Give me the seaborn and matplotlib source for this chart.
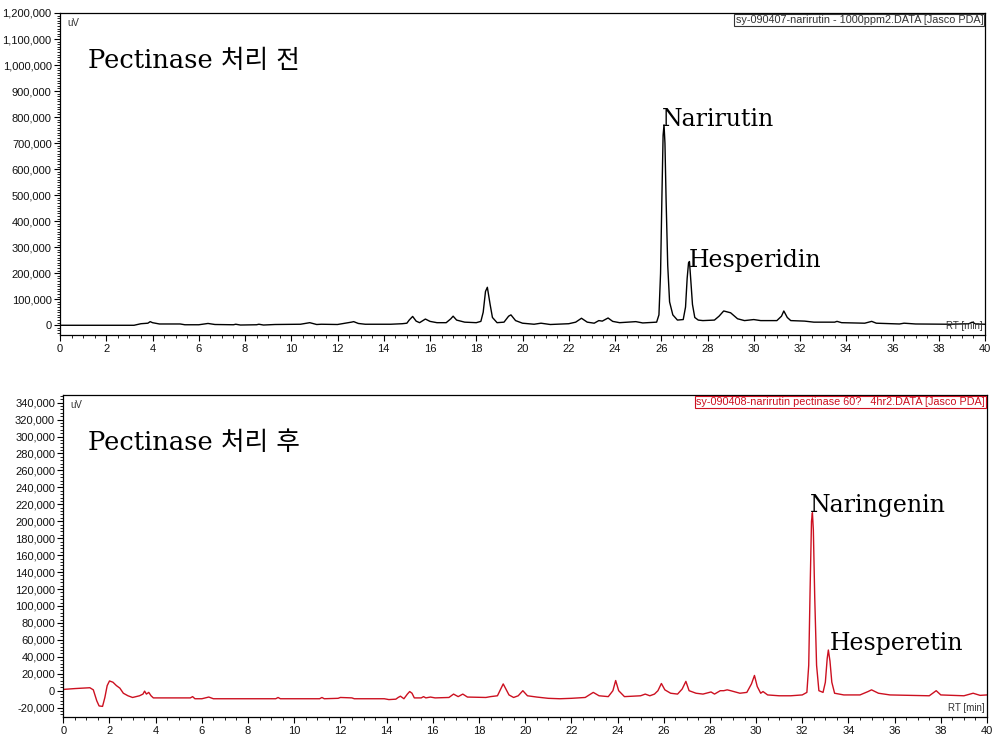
import matplotlib
matplotlib.use("Agg")
import matplotlib.pyplot as plt
import matplotlib.ticker as mticker
import seaborn as sns
import pandas as pd

# ---- Data ----
# Top: before pectinase treatment (retention time [min], signal [uV])
rt_before = [0, 3.2, 3.5, 3.8, 3.9, 4.0, 4.3, 5.2, 5.4, 6.0, 6.4, 6.7, 7.5, 7.6, 7.8,
             8.5, 8.6, 8.8, 9.3, 10.4, 10.8, 11.1, 11.3, 12.0, 12.6, 12.7, 12.9, 13.2,
             14.3, 14.8, 15.0, 15.1, 15.25, 15.4, 15.55, 15.8, 16.0, 16.3, 16.7, 16.9,
             17.0, 17.15, 17.5, 18.0, 18.2, 18.3, 18.4, 18.48, 18.6, 18.7, 18.9, 19.2, 19.4,
             19.5, 19.7, 20.0, 20.5, 20.8, 21.2, 22.0, 22.3, 22.55, 22.8, 23.1, 23.3,
             23.45, 23.7, 23.9, 24.2, 24.9, 25.2, 25.8, 25.9, 25.97, 26.03, 26.08, 26.12,
             26.16, 26.21, 26.28, 26.36, 26.5, 26.7, 26.95, 27.05, 27.12, 27.18, 27.22,
             27.28, 27.35, 27.45, 27.6, 27.8, 28.3, 28.5,
             28.7, 29.0, 29.3, 29.6, 30.0, 30.3, 31.0, 31.2, 31.3, 31.45, 31.6, 32.2,
             32.6, 33.5, 33.6, 33.8, 34.8, 35.1, 35.3, 36.3, 36.5, 37.0, 38.5, 39.3,
             39.45, 39.6, 40]
uv_before = [0, 0, 6000, 8000, 14000, 10000, 5000, 5000, 2000, 2000, 7000, 3000, 2000, 4000, 1000,
             2000, 4000, 1000, 3000, 4000, 10000, 3000, 4000, 3000, 12000, 14000, 7000, 4000,
             4000, 6000, 8000, 20000, 34000, 16000, 10000, 24000, 15000, 10000, 10000, 25000,
             35000, 20000, 12000, 10000, 15000, 50000, 130000, 146000, 80000, 30000, 10000, 12000, 35000,
             40000, 18000, 8000, 4000, 8000, 3000, 6000, 12000, 27000, 12000, 8000, 18000,
             16000, 28000, 15000, 10000, 14000, 9000, 12000, 40000, 200000, 500000, 730000, 770000,
             700000, 480000, 230000, 90000, 40000, 20000, 22000, 70000, 180000, 240000, 245000,
             170000, 80000, 30000, 20000, 18000, 20000, 35000,
             55000, 48000, 25000, 18000, 22000, 18000, 18000, 35000, 55000, 30000, 18000, 16000,
             12000, 12000, 15000, 10000, 8000, 15000, 8000, 5000, 8000, 5000, 4000, 6000,
             12000, 5000, 4000]

# Bottom: after pectinase treatment
rt_after = [0, 0.5, 1.15, 1.3, 1.45, 1.55, 1.7, 1.8, 1.9, 2.0, 2.15, 2.3, 2.45, 2.6, 2.8,
            3.0, 3.3, 3.45, 3.52, 3.6, 3.7, 3.8, 3.9, 4.2, 5.5, 5.6, 5.7, 6.0, 6.3, 6.5,
            9.2, 9.3, 9.4, 11.1, 11.2, 11.3, 11.9, 12.0, 12.5, 12.6, 13.9, 14.1, 14.4,
            14.5, 14.6, 14.75, 14.9, 15.0, 15.1, 15.2, 15.5, 15.6, 15.7, 15.9, 16.1,
            16.7, 16.9, 17.1, 17.3, 17.5, 18.3, 18.5, 18.8, 19.05, 19.3, 19.5, 19.7,
            19.9, 20.1, 20.5, 21.0, 21.5, 22.0, 22.6, 22.95, 23.2, 23.6, 23.8, 23.92,
            24.05, 24.3, 25.0, 25.2, 25.4, 25.6, 25.75, 25.9, 26.05, 26.3, 26.6, 26.8,
            26.96, 27.1, 27.4, 27.7, 28.05, 28.2, 28.45, 28.6, 28.75, 28.9, 29.3, 29.6,
            29.8, 29.93, 30.05, 30.2, 30.3, 30.5, 31.0, 31.5, 32.0, 32.2, 32.28, 32.34,
            32.4, 32.44, 32.48, 32.54, 32.62, 32.72, 32.9, 33.0, 33.08, 33.13, 33.2, 33.28,
            33.4, 33.8, 34.5, 34.85,
            35.0, 35.3, 35.8, 37.5, 37.8, 38.0, 39.0, 39.4, 39.7, 40]
uv_after = [1500, 2500, 3500, 1000, -12000, -18000, -18500, -8000, 6000, 11500, 10000, 6000, 3000, -3000, -6000,
            -8000, -6000, -4000, -500, -4000, -2000, -6000, -8500, -8500, -8500, -7000, -9500, -9500, -7500, -9500,
            -9500, -8000, -9500, -9500, -8000, -9500, -9000, -8000, -8500, -9500, -9500, -10500, -10000,
            -8000, -6500, -9500, -4000, -1000, -3000, -8500, -8500, -7000, -8500, -7500, -8500,
            -8000, -4000, -7000, -4000, -7500, -8000, -7000, -6000, 8000, -5000, -8000, -6000,
            0, -6000, -7500, -9000, -9500, -9000, -8000, -2000, -6000, -7000, 0, 12000,
            0, -7000, -6000, -4000, -6000, -4000, 0, 8500, 1000, -3000, -4000, 2000,
            11000, 0, -3000, -4000, -1500, -4000, 0, 0, 1000, 0, -3000, -2000,
            8000, 18000, 5000, -3000, -1000, -5000, -6000, -6000, -5000, -2000, 30000, 120000,
            200000, 210000, 190000, 110000, 30000, 0, -2000, 10000, 38000, 48000, 35000, 10000,
            -3000, -5000, -5000, -1000,
            1000, -3000, -5000, -6000, 0, -5000, -6000, -3000, -5500, -5000]

top_yticks = list(range(0, 1200001, 100000))
bottom_yticks = list(range(-20000, 340001, 20000))
xticks = list(range(0, 41, 2))

top_title = "Pectinase 처리 전"
bottom_title = "Pectinase 처리 후"
top_file = "sy-090407-narirutin - 1000ppm2.DATA [Jasco PDA]"
bottom_file = "sy-090408-narirutin pectinase 60?   4hr2.DATA [Jasco PDA]"
top_peaks = [("Narirutin", 26.03, 764000), ("Hesperidin", 27.2, 224000)]
bottom_peaks = [("Naringenin", 32.34, 211000), ("Hesperetin", 33.17, 48000)]

# ---- Style ----
sns.set_style("ticks")
plt.rcParams['font.family'] = ['Liberation Sans', 'DejaVu Sans']
plt.rcParams['text.color'] = 'black'
plt.rcParams['xtick.color'] = 'black'
plt.rcParams['ytick.color'] = 'black'
plt.rcParams['xtick.labelcolor'] = '#111111'
plt.rcParams['ytick.labelcolor'] = '#111111'
SERIF = ['DejaVu Serif', 'Noto Sans CJK KR']

fig = plt.figure(figsize=(9.92, 7.35), dpi=100)
ax1 = fig.add_axes([60/992, 1-335.3/735, 925/992, (335.3-13)/735])
ax2 = fig.add_axes([63.3/992, 1-717.3/735, 923.7/992, (717.3-395)/735])

df1 = pd.DataFrame({"rt": rt_before, "uv": uv_before})
df2 = pd.DataFrame({"rt": rt_after, "uv": uv_after})
sns.lineplot(data=df1, x="rt", y="uv", ax=ax1, color="black", lw=1.0, estimator=None, sort=False)
sns.lineplot(data=df2, x="rt", y="uv", ax=ax2, color="#cc1020", lw=1.0, estimator=None, sort=False)

fmt = mticker.FuncFormatter(lambda v, p: f"{v:,.0f}")
for ax, yt, ylim, yminor in [(ax1, top_yticks, (-38500, 1200000), 10000),
                             (ax2, bottom_yticks, (-31400, 349000), 4000)]:
    ax.set_xlim(0, 40)
    ax.set_ylim(*ylim)
    ax.set_xticks(xticks)
    ax.set_yticks(yt)
    ax.xaxis.set_minor_locator(mticker.MultipleLocator(0.5))
    ax.yaxis.set_minor_locator(mticker.MultipleLocator(yminor))
    ax.yaxis.set_major_formatter(fmt)
    ax.set_xlabel("")
    ax.set_ylabel("")
    ax.tick_params(axis='both', which='major', labelsize=8, length=4, width=0.8, color='black', pad=2)
    ax.tick_params(axis='both', which='minor', length=2, width=0.6, color='black')
    for s in ax.spines.values():
        s.set_visible(True)
        s.set_linewidth(0.9)
        s.set_color('black')
    ax.text(0.008, 0.985, "uV", transform=ax.transAxes, fontsize=7, va='top', ha='left', color='#333333')
    ax.text(0.997, 0.012, "RT [min]", transform=ax.transAxes, fontsize=7, va='bottom', ha='right', color='#333333')

ax1.text(0.998, 0.995, top_file, transform=ax1.transAxes, fontsize=7.8, va='top', ha='right',
         color='#333333', bbox=dict(boxstyle='square,pad=0.1', fc='white', ec='#333333', lw=0.8))
ax2.text(0.998, 0.995, bottom_file, transform=ax2.transAxes, fontsize=7.8, va='top', ha='right',
         color='#cc1020', bbox=dict(boxstyle='square,pad=0.1', fc='white', ec='#cc1020', lw=0.8))

ax1.text(1.21, 988000, top_title, fontsize=18.5, family=SERIF, va='baseline', ha='left', color='black')
ax2.text(1.07, 284000, bottom_title, fontsize=18.5, family=SERIF, va='baseline', ha='left', color='black')
for ax, peaks in [(ax1, top_peaks), (ax2, bottom_peaks)]:
    for name, x, y in peaks:
        ax.text(x, y, name, fontsize=17, family=SERIF, va='baseline', ha='left', color='black')

fig.savefig("out.png", dpi=100)
